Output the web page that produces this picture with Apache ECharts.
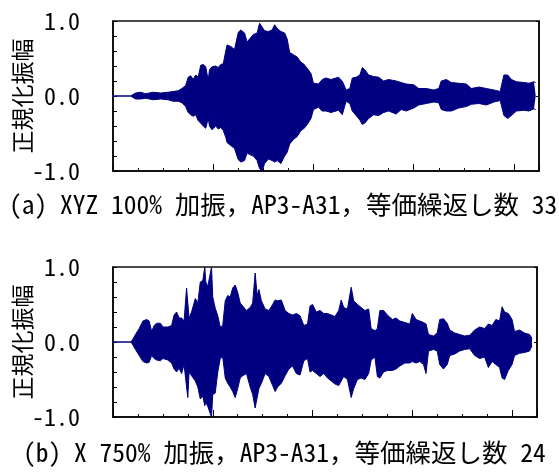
<!DOCTYPE html>
<html><head><meta charset="utf-8">
<script src="https://cdn.jsdelivr.net/npm/echarts@6/dist/echarts.min.js"></script>
<style>html,body{margin:0;padding:0;background:#fff}#c{width:559px;height:473px}</style>
</head><body><div id="c"></div>
<script>
// ---- text ----
const yTickLabels = ['-1.0', '0.0', '1.0'];
const yAxisName = '正規化振幅';
const captionA = '(a) XYZ 100% 加振，AP3-A31，等価繰返し数 33';
const captionB = '(b) X 750% 加振，AP3-A31，等価繰返し数 24';

// ---- panel (a): envelope of the normalized waveform (time in tick units) ----
const topTime  = [0.0,0.7,0.75,0.9,1.1,1.3,1.6,1.9,2.2,2.4,2.6,2.75,2.9,3.0,3.1,3.2,3.3,3.4,3.5,3.6,3.7,3.8,3.85,3.95,4.1,4.2,4.3,4.4,4.5,4.55,4.7,4.85,5.0,5.1,5.25,5.35,5.45,5.6,5.75,5.85,5.95,6.05,6.2,6.35,6.45,6.55,6.7,6.85,6.95,7.05,7.2,7.35,7.5,7.6,7.75,7.9,8.0,8.2,8.35,8.5,8.7,8.9,9.0,9.15,9.3,9.45,9.55,9.7,9.85,9.95,10.05,10.2,10.4,10.6,10.8,11.0,11.3,11.5,11.7,12.0,12.2,12.5,12.8,13.0,13.1,13.3,13.5,13.8,14.1,14.3,14.6,14.9,15.2,15.45,15.6,15.75,15.9,16.1,16.4,16.6,16.8,16.87];
const topUpper = [0,0,0.02,0.04,0.05,0.03,0.05,0.04,0.05,0.06,0.07,0.10,0.14,0.25,0.27,0.22,0.28,0.25,0.41,0.42,0.39,0.21,0.35,0.39,0.40,0.38,0.42,0.43,0.60,0.68,0.66,0.62,0.85,0.88,0.84,0.72,0.76,0.82,0.84,0.97,0.92,0.87,0.86,0.88,0.95,0.90,0.86,0.84,0.76,0.58,0.55,0.52,0.45,0.43,0.37,0.30,0.17,0.16,0.22,0.24,0.22,0.24,0.25,0.20,0.08,0.10,0.24,0.25,0.28,0.38,0.35,0.28,0.26,0.25,0.20,0.22,0.20,0.18,0.16,0.15,0.10,0.10,0.08,0.10,0.20,0.22,0.18,0.17,0.16,0.10,0.12,0.10,0.08,0.06,0.28,0.28,0.22,0.19,0.18,0.17,0.19,0.18];
const topLower = [0,0,-0.02,-0.04,-0.04,-0.03,-0.05,-0.04,-0.05,-0.07,-0.07,-0.09,-0.14,-0.22,-0.25,-0.27,-0.25,-0.33,-0.36,-0.40,-0.43,-0.30,-0.40,-0.45,-0.40,-0.44,-0.42,-0.46,-0.55,-0.62,-0.66,-0.70,-0.85,-0.88,-0.86,-0.76,-0.78,-0.80,-0.86,-0.97,-1.0,-0.90,-0.84,-0.86,-0.88,-0.86,-0.90,-0.80,-0.75,-0.64,-0.58,-0.54,-0.46,-0.44,-0.38,-0.30,-0.18,-0.15,-0.20,-0.20,-0.22,-0.20,-0.19,-0.25,-0.07,-0.10,-0.20,-0.26,-0.32,-0.38,-0.36,-0.30,-0.25,-0.26,-0.22,-0.20,-0.24,-0.18,-0.20,-0.16,-0.12,-0.10,-0.08,-0.09,-0.18,-0.20,-0.20,-0.16,-0.14,-0.11,-0.10,-0.12,-0.08,-0.06,-0.26,-0.30,-0.26,-0.20,-0.19,-0.20,-0.17,-0.18];

// ---- panel (b) ----
const botTime  = [0.0,0.72,0.8,0.9,1.05,1.2,1.35,1.45,1.55,1.65,1.75,1.9,2.0,2.2,2.35,2.45,2.55,2.65,2.75,2.85,2.95,3.0,3.05,3.15,3.3,3.4,3.5,3.6,3.68,3.72,3.8,3.88,3.95,4.0,4.1,4.2,4.3,4.4,4.5,4.6,4.7,4.8,4.9,5.0,5.1,5.2,5.35,5.5,5.6,5.7,5.78,5.85,5.95,6.1,6.25,6.4,6.5,6.6,6.75,6.9,7.05,7.2,7.35,7.5,7.65,7.8,7.9,8.0,8.15,8.3,8.45,8.6,8.75,8.9,9.05,9.15,9.25,9.4,9.55,9.65,9.8,9.95,10.1,10.25,10.35,10.5,10.6,10.7,10.85,11.0,11.2,11.35,11.5,11.7,11.9,12.0,12.15,12.3,12.45,12.55,12.65,12.85,13.0,13.1,13.25,13.4,13.5,13.7,13.9,14.1,14.3,14.5,14.7,14.9,15.05,15.2,15.35,15.5,15.6,15.7,15.85,16.0,16.1,16.3,16.5,16.7,16.8];
const botUpper = [0,0,0.04,0.10,0.18,0.28,0.30,0.28,0.14,0.22,0.25,0.25,0.20,0.20,0.22,0.36,0.40,0.32,0.32,0.28,0.72,0.70,0.32,0.40,0.58,0.52,0.80,0.82,1.0,0.80,0.74,0.76,1.0,0.60,0.45,0.35,0.20,0.22,0.55,0.62,0.60,0.72,0.76,0.66,0.52,0.48,0.42,0.46,0.52,0.92,0.62,0.70,0.55,0.44,0.42,0.50,0.56,0.55,0.56,0.42,0.38,0.36,0.38,0.35,0.22,0.24,0.48,0.50,0.40,0.42,0.38,0.38,0.36,0.34,0.42,0.56,0.46,0.44,0.73,0.55,0.50,0.46,0.42,0.44,0.18,0.15,0.18,0.42,0.42,0.36,0.30,0.32,0.28,0.26,0.24,0.38,0.30,0.28,0.26,0.24,0.10,0.08,0.12,0.30,0.31,0.25,0.16,0.12,0.10,0.08,0.09,0.16,0.20,0.18,0.24,0.22,0.30,0.28,0.47,0.40,0.38,0.30,0.14,0.16,0.12,0.10,0.05];
const botLower = [0,0,-0.04,-0.10,-0.18,-0.26,-0.28,-0.27,-0.18,-0.22,-0.24,-0.25,-0.22,-0.24,-0.28,-0.36,-0.40,-0.35,-0.42,-0.30,-0.60,-0.74,-0.40,-0.45,-0.52,-0.60,-0.76,-0.72,-0.85,-0.80,-0.86,-0.88,-1.0,-0.70,-0.68,-0.40,-0.22,-0.20,-0.48,-0.55,-0.60,-0.66,-0.74,-0.62,-0.48,-0.45,-0.42,-0.60,-0.70,-0.88,-0.90,-0.62,-0.55,-0.42,-0.46,-0.58,-0.66,-0.60,-0.55,-0.45,-0.36,-0.32,-0.42,-0.44,-0.25,-0.22,-0.40,-0.38,-0.42,-0.46,-0.42,-0.48,-0.52,-0.56,-0.58,-0.52,-0.46,-0.50,-0.74,-0.62,-0.50,-0.48,-0.50,-0.42,-0.24,-0.20,-0.46,-0.48,-0.40,-0.38,-0.38,-0.36,-0.32,-0.28,-0.28,-0.26,-0.28,-0.26,-0.30,-0.42,-0.12,-0.10,-0.12,-0.30,-0.36,-0.30,-0.18,-0.16,-0.12,-0.10,-0.09,-0.18,-0.22,-0.20,-0.34,-0.26,-0.30,-0.34,-0.48,-0.50,-0.38,-0.30,-0.18,-0.15,-0.14,-0.12,-0.05];

const NAVY = '#000080';
const MONO = "'Noto Sans Mono CJK JP', 'Noto Sans CJK JP', 'DejaVu Sans Mono'";
const pairs = (t, v) => v.map((y, i) => [t[i], y]);

function gridAxes(gi, width, top) {
  return {
    grid: {left: 113, top: top, width: width, height: 150, show: true, borderColor: '#111', borderWidth: 1.5,
           backgroundColor: 'transparent', containLabel: false, outerBoundsMode: 'none'},
    xs: [
      {gridIndex: gi, type: 'value', min: 0, max: 17, interval: 1, position: 'bottom',
       axisLine: {show: true, onZero: false, lineStyle: {color: '#000', width: 1.5}},
       axisTick: {show: true, inside: true, length: 3, lineStyle: {color: '#000', width: 1}},
       axisLabel: {show: false}, splitLine: {show: false}},
      {gridIndex: gi, type: 'value', min: 0, max: 17, interval: 4, position: 'bottom',
       axisLine: {show: false, onZero: false},
       axisTick: {show: true, inside: true, length: 7, lineStyle: {color: '#000', width: 1}},
       axisLabel: {show: false}, splitLine: {show: false}}
    ],
    ys: [
      {gridIndex: gi, type: 'value', min: -1, max: 1, interval: 1, position: 'left',
       axisLine: {show: true, onZero: false, lineStyle: {color: '#000', width: 1.5}},
       axisTick: {show: true, inside: true, length: 4, lineStyle: {color: '#000', width: 1}},
       minorTick: {show: true, splitNumber: 5, length: 4, lineStyle: {color: '#000', width: 1}},
       axisLabel: {margin: 33, fontSize: 24, fontFamily: MONO, color: '#000',
                   formatter: v => yTickLabels[Math.round(v) + 1]},
       splitLine: {show: false}, minorSplitLine: {show: false},
       name: yAxisName, nameLocation: 'middle', nameRotate: 90, nameGap: 79, nameMoveOverlap: false,
       nameTextStyle: {fontSize: 23, fontFamily: 'Noto Sans CJK JP', color: '#000'}},
      {gridIndex: gi, type: 'value', min: -1, max: 1, interval: 1, position: 'right',
       axisLine: {show: true, onZero: false, lineStyle: {color: '#000', width: 1.5}},
       axisTick: {show: true, inside: true, length: 3, lineStyle: {color: '#000', width: 1}},
       axisLabel: {show: false}, splitLine: {show: false}}
    ]
  };
}

const g0 = gridAxes(0, 426, 21);
const g1 = gridAxes(1, 424, 267);

function wave(xi, yi, t, v) {
  return {type: 'line', xAxisIndex: xi, yAxisIndex: yi, data: pairs(t, v), symbol: 'none',
          lineStyle: {color: NAVY, width: 1}, areaStyle: {color: NAVY, opacity: 1, origin: 'auto'},
          silent: true, z: 1};
}

const chart = echarts.init(document.getElementById('c'), null, {renderer: 'canvas'});
chart.setOption({
  animation: false,
  backgroundColor: '#fff',
  title: [
    {text: captionA, left: 4, top: 187, textStyle: {fontSize: 25.5, fontWeight: 'normal', color: '#000', fontFamily: MONO}},
    {text: captionB, left: 18, top: 435, textStyle: {fontSize: 25.5, fontWeight: 'normal', color: '#000', fontFamily: MONO}}
  ],
  grid: [g0.grid, g1.grid],
  xAxis: [...g0.xs, ...g1.xs],
  yAxis: [...g0.ys, ...g1.ys],
  series: [
    wave(0, 0, topTime, topUpper),
    wave(0, 0, topTime, topLower),
    wave(2, 2, botTime, botUpper),
    wave(2, 2, botTime, botLower)
  ]
});
</script>
</body></html>
